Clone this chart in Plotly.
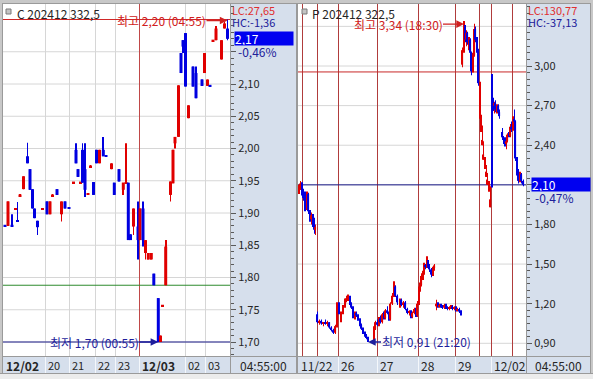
import plotly.graph_objects as go

W, H = 593, 379
FONT = "Noto Sans CJK KR"
UP, DOWN = "#E00000", "#0000E0"

# ---------------- left chart : C 202412 332,5 (x = slot position) ----------------
c_title = "C 202412 332,5"
c_x = [2, 5, 9, 12.5, 14.5, 17, 20.5, 24.5, 27, 29.5,
       31.5, 34.5, 39.5, 44, 47, 49.5, 54, 58.5, 62, 66,
       70.5, 73, 75, 77.5, 79.5, 82, 85, 87.5, 90.5, 93.5,
       96.5, 100.3, 103, 108.5, 111.3, 116, 120.3, 123, 125.3, 127.5,
       130.5, 135, 137, 140, 142.5, 145.3, 148.3, 150.8, 155.3, 157.5,
       159.5, 162.7, 167.5, 170, 172, 175.5, 178, 180, 182.5, 185.5,
       190, 193, 199, 201.5, 204.5, 207, 210, 213, 218.5, 221.5,
       224.5]
c_open = [1.881, 1.880, 1.881, 1.906, 1.888, 1.927, 1.937, 1.988, 1.968, 1.937,
          1.907, 1.888, 1.906, 1.918, 1.898, 1.927, 1.937, 1.898, 1.918, 1.908,
          1.947, 1.998, 1.968, 1.947, 1.998, 1.968, 1.929, 1.972, 1.948, 1.998,
          1.977, 1.998, 1.989, 1.968, 1.947, 1.968, 1.936, 1.946, 1.947, 1.867,
          1.879, 1.879, 1.858, 1.907, 1.838, 1.828, 1.828, 1.806, 1.768, 1.700,
          1.756, 1.788, 1.928, 1.946, 2.008, 2.018, 2.148, 2.168, 2.179, 2.047,
          2.127, 2.117, 2.107, 2.117, 2.097, 2.098, 2.167, 2.168, 2.138, 2.186,
          2.186]
c_high = [1.881, 1.918, 1.898, 1.907, 1.917, 1.928, 1.957, 2.009, 1.968, 1.937,
          1.907, 1.888, 1.907, 1.918, 1.918, 1.928, 1.937, 1.918, 1.918, 1.908,
          1.948, 2.008, 1.968, 1.948, 2.008, 2.008, 1.930, 1.973, 1.948, 1.998,
          1.998, 2.018, 1.989, 1.977, 1.947, 1.968, 1.947, 2.008, 1.947, 1.867,
          1.907, 1.918, 1.907, 1.918, 1.858, 1.838, 1.838, 1.806, 1.768, 1.710,
          1.757, 1.858, 1.949, 1.998, 2.018, 2.098, 2.148, 2.168, 2.179, 2.067,
          2.127, 2.127, 2.107, 2.148, 2.107, 2.098, 2.168, 2.190, 2.168, 2.196,
          2.200]
c_low = [1.880, 1.880, 1.880, 1.906, 1.887, 1.927, 1.937, 1.977, 1.936, 1.907,
         1.892, 1.866, 1.906, 1.898, 1.898, 1.927, 1.928, 1.887, 1.907, 1.907,
         1.947, 1.977, 1.956, 1.947, 1.947, 1.925, 1.929, 1.972, 1.928, 1.977,
         1.977, 1.988, 1.988, 1.968, 1.928, 1.949, 1.928, 1.946, 1.858, 1.858,
         1.866, 1.828, 1.858, 1.848, 1.828, 1.828, 1.828, 1.788, 1.700, 1.700,
         1.756, 1.788, 1.918, 1.946, 2.000, 2.018, 2.117, 2.148, 2.096, 2.047,
         2.096, 2.078, 2.097, 2.117, 2.097, 2.097, 2.167, 2.168, 2.138, 2.186,
         2.168]
c_close = [1.880, 1.918, 1.880, 1.907, 1.887, 1.928, 1.957, 1.977, 1.936, 1.907,
           1.892, 1.878, 1.907, 1.898, 1.918, 1.928, 1.928, 1.918, 1.907, 1.907,
           1.948, 1.977, 1.956, 1.948, 1.947, 1.936, 1.930, 1.973, 1.928, 1.977,
           1.998, 1.988, 1.988, 1.977, 1.928, 1.949, 1.947, 1.947, 1.858, 1.858,
           1.907, 1.858, 1.907, 1.858, 1.858, 1.838, 1.838, 1.788, 1.700, 1.710,
           1.757, 1.848, 1.949, 1.998, 2.018, 2.098, 2.117, 2.158, 2.096, 2.067,
           2.096, 2.078, 2.097, 2.148, 2.107, 2.097, 2.168, 2.186, 2.168, 2.194,
           2.170]
c_tick_pos = [0, 42, 66, 92, 112, 136, 182, 202]
c_tick_text = ["12/02", "20", "21", "22", "23", "12/03", "02", "03"]
c_day_breaks = [136]
c_yticks = [1.70, 1.75, 1.80, 1.85, 1.90, 1.95, 2.00, 2.05, 2.10, 2.15, 2.20]
c_hidden_ticks = [2.15, 2.20]
c_green_level = 1.788
c_high_text = "최고 2,20 (04:55)"
c_low_text = "최저 1,70 (00:55)"
c_lc, c_hc, c_chg = "LC:27,65", "HC:-1,36", "-0,46%"
c_time = "04:55:00"

# ---------------- right chart : P 202412 322,5 ----------------
p_title = "P 202412 322,5"
p_x = [1, 2.5, 4, 5.5, 7, 9, 10.5, 12, 13.5, 15, 16.5, 17.5,
       19.5, 21.5, 23.5, 25.5, 27.5, 29.5, 31.5, 33.5, 35.5, 37.5, 39,
       41, 43, 45, 47, 48.5, 50, 52, 53.5, 55, 57, 58.5, 60, 62, 63.5, 65, 67, 68.5, 70,
       76, 77.5, 79.5, 81, 82.5, 84.5, 86, 87.5, 89.5, 91, 92.5, 94.5, 96, 97.5, 99.5,
       102, 103.5, 105.5, 107.5, 109.5, 111.5, 113, 114.5, 116.5, 118,
       119.5, 121, 122, 123.5, 125, 126, 127.5, 129, 130, 131.5, 133.5, 135, 136.5,
       138.5, 140, 141.5, 143, 144.5, 146.5, 148, 149.5, 151.5, 153, 154.5, 156.5, 158, 159.5, 161.5, 163,
       164.5, 166, 167, 168.5, 169.5, 171, 172.5, 173.5, 175, 176.5, 177.5, 179, 180.5,
       182, 183, 184.5, 185.5, 187, 188.5, 189.5, 191, 192.5,
       194, 195, 196.5, 197.5, 199, 200.5, 201.5, 204.5, 205.5, 207, 208.5, 209.5, 211, 212.5,
       213.5, 215, 216.5, 217.5, 219, 220.5, 222, 223.5, 225.5]
p_open = [2.06, 2.08, 2.11, 2.04, 2.00, 1.92, 2.03, 1.90, 1.84, 1.87, 1.80, 1.76,
          1.12, 1.06, 1.07, 1.05, 1.06, 1.05, 1.06, 1.02, 1.00, 0.98, 1.03,
          1.18, 1.07, 1.13, 1.18, 1.22, 1.24, 1.25, 1.20, 1.17, 1.10, 1.13, 1.11, 1.08, 1.04, 1.01, 0.98, 0.96, 0.94,
          0.93, 1.01, 1.06, 1.04, 1.09, 1.06, 1.12, 1.09, 1.15, 1.13, 1.08, 1.20, 1.26, 1.33, 1.26,
          1.21, 1.23, 1.19, 1.21, 1.16, 1.13, 1.14, 1.10, 1.13, 1.16,
          1.11, 1.20, 1.31, 1.34, 1.41, 1.43, 1.49, 1.48, 1.52, 1.48, 1.46, 1.42, 1.47,
          1.18, 1.20, 1.18, 1.19, 1.18, 1.17, 1.19, 1.17, 1.16, 1.17, 1.18, 1.16, 1.17, 1.15, 1.16, 1.14,
          3.01, 3.12, 3.30, 3.20, 3.25, 3.18, 3.20, 3.10, 2.96, 3.08, 3.28, 3.20, 3.12,
          2.62, 2.50, 2.40, 2.29, 2.22, 2.16, 2.10, 2.05, 1.93,
          2.76, 2.72, 2.70, 2.72, 2.67, 2.70, 2.65, 2.50, 2.46, 2.44, 2.41, 2.43, 2.48, 2.47,
          2.54, 2.52, 2.60, 2.58, 2.30, 2.20, 2.13, 2.18, 2.13]
p_high = [2.10, 2.13, 2.12, 2.07, 2.05, 2.05, 2.04, 1.91, 1.89, 1.88, 1.85, 1.80,
          1.14, 1.08, 1.08, 1.06, 1.08, 1.07, 1.06, 1.03, 1.01, 1.04, 1.21,
          1.21, 1.14, 1.19, 1.24, 1.26, 1.27, 1.26, 1.21, 1.18, 1.14, 1.14, 1.12, 1.09, 1.05, 1.02, 0.99, 0.97, 0.95,
          1.03, 1.07, 1.08, 1.10, 1.11, 1.13, 1.14, 1.16, 1.18, 1.14, 1.21, 1.28, 1.37, 1.34, 1.27,
          1.24, 1.24, 1.22, 1.22, 1.17, 1.15, 1.15, 1.14, 1.17, 1.17,
          1.22, 1.33, 1.36, 1.43, 1.45, 1.51, 1.50, 1.56, 1.53, 1.50, 1.47, 1.48, 1.50,
          1.23, 1.21, 1.20, 1.20, 1.19, 1.20, 1.20, 1.18, 1.18, 1.19, 1.19, 1.18, 1.18, 1.17, 1.17, 1.15,
          3.14, 3.34, 3.31, 3.27, 3.26, 3.22, 3.21, 3.11, 3.10, 3.32, 3.30, 3.22, 3.13,
          2.88, 2.63, 2.55, 2.43, 2.31, 2.25, 2.19, 2.13, 2.09,
          2.94, 2.76, 2.73, 2.74, 2.71, 2.71, 2.67, 2.53, 2.47, 2.46, 2.44, 2.49, 2.50, 2.56,
          2.58, 2.62, 2.67, 2.59, 2.31, 2.22, 2.20, 2.19, 2.14]
p_low = [2.03, 2.06, 2.02, 1.98, 1.90, 1.91, 1.88, 1.82, 1.80, 1.78, 1.73, 1.72,
         1.05, 1.04, 1.04, 1.03, 1.04, 1.03, 1.01, 0.99, 0.97, 0.97, 1.02,
         1.12, 1.06, 1.12, 1.17, 1.21, 1.22, 1.19, 1.16, 1.09, 1.08, 1.10, 1.07, 1.03, 1.00, 0.97, 0.95, 0.93, 0.91,
         0.92, 1.00, 1.03, 1.03, 1.05, 1.05, 1.08, 1.08, 1.12, 1.07, 1.07, 1.19, 1.25, 1.25, 1.19,
         1.17, 1.18, 1.17, 1.15, 1.12, 1.11, 1.09, 1.09, 1.12, 1.10,
         1.10, 1.19, 1.29, 1.33, 1.38, 1.42, 1.46, 1.47, 1.47, 1.44, 1.40, 1.41, 1.45,
         1.15, 1.17, 1.17, 1.17, 1.16, 1.16, 1.16, 1.15, 1.15, 1.16, 1.15, 1.15, 1.14, 1.14, 1.13, 1.11,
         2.99, 3.10, 3.18, 3.15, 3.16, 3.12, 3.09, 2.93, 2.95, 3.07, 3.18, 3.10, 2.85,
         2.60, 2.50, 2.40, 2.29, 2.22, 2.16, 2.10, 2.05, 1.93,
         2.08, 2.66, 2.64, 2.65, 2.64, 2.63, 2.60, 2.44, 2.41, 2.39, 2.37, 2.42, 2.46, 2.46,
         2.50, 2.51, 2.56, 2.28, 2.17, 2.11, 2.12, 2.11, 2.09]
p_close = [2.08, 2.11, 2.04, 2.00, 1.92, 2.03, 1.90, 1.84, 1.87, 1.80, 1.76, 1.78,
           1.06, 1.07, 1.05, 1.06, 1.05, 1.06, 1.02, 1.00, 0.98, 1.03, 1.18,
           1.13, 1.13, 1.18, 1.22, 1.24, 1.25, 1.20, 1.17, 1.10, 1.13, 1.11, 1.08, 1.04, 1.01, 0.98, 0.96, 0.94, 0.92,
           1.01, 1.06, 1.04, 1.09, 1.06, 1.12, 1.09, 1.15, 1.13, 1.08, 1.20, 1.26, 1.33, 1.26, 1.21,
           1.23, 1.19, 1.21, 1.16, 1.13, 1.14, 1.10, 1.13, 1.16, 1.11,
           1.20, 1.31, 1.34, 1.41, 1.43, 1.49, 1.48, 1.52, 1.48, 1.46, 1.42, 1.47, 1.49,
           1.20, 1.18, 1.19, 1.18, 1.17, 1.19, 1.17, 1.16, 1.17, 1.18, 1.16, 1.17, 1.15, 1.16, 1.14, 1.12,
           3.12, 3.30, 3.20, 3.25, 3.18, 3.20, 3.10, 2.96, 3.08, 3.28, 3.20, 3.12, 2.87,
           2.66, 2.54, 2.44, 2.33, 2.26, 2.20, 2.14, 2.09, 1.99,
           2.72, 2.70, 2.72, 2.67, 2.70, 2.65, 2.62, 2.46, 2.44, 2.41, 2.43, 2.48, 2.47, 2.54,
           2.52, 2.60, 2.58, 2.30, 2.20, 2.13, 2.18, 2.13, 2.10]
p_tick_pos = [0, 40, 79, 120, 157, 193]
p_tick_text = ["11/22", "26", "27", "28", "29", "12/02"]
p_session_lines = [4, 19, 40, 79, 120, 157, 181, 193, 214]
p_yticks = [0.90, 1.20, 1.50, 1.80, 2.10, 2.40, 2.70, 3.00, 3.30]
p_hidden_ticks = [2.10, 3.30]
p_red_level = 2.955
p_high_text = "최고 3,34 (18:30)"
p_low_text = "최저 0,91 (21:20)"
p_lc, p_hc, p_chg = "LC:130,77", "HC:-37,13", "-0,47%"
p_time = "04:55:00"

for arr in (c_open, c_high, c_low, c_close):
    assert len(arr) == len(c_x)
for arr in (p_open, p_high, p_low, p_close):
    assert len(arr) == len(p_x)

# ---------------- geometry (pixels) ----------------
TOP, BOT, SBOT = 4, 356, 373
C_L, C_R, C_AR = 3, 230, 296
P_L, P_R, P_AR = 298, 526, 590
C_YR = [2.10 - (BOT - 84) / 645.0, 2.10 + (84 - TOP) / 645.0]
P_YR = [0.90 - (BOT - 343.3) / 132.05, 3.00 + (66 - TOP) / 132.05]
STRIP = "#D6DFEC"
GRID = "#D6D6D6"
FRAME = "#9A9A9A"
TXT = "#262626"
PX_OFF = 0.5   # half-pixel offset so 1px vertical lines stay crisp


def pxx(p):
    return p / W


def pxy(p):
    return 1 - p / H


def fmt(v):
    return f"{v:.2f}".replace(".", ",")


fig = go.Figure()


def add_candles(xs, o, h, l, c, xa, ya, body_w, wick_w, min_h):
    cols = [UP if cc >= oo else DOWN for oo, cc in zip(o, c)]
    fig.add_trace(go.Bar(x=xs, base=l, y=[hh - ll for hh, ll in zip(h, l)], width=wick_w,
                         marker=dict(color=cols, line=dict(width=0)), xaxis=xa, yaxis=ya,
                         hoverinfo="skip", showlegend=False))
    bb, bh = [], []
    for oo, cc in zip(o, c):
        d = abs(cc - oo)
        hh = max(d, min_h)
        bb.append(min(oo, cc) - (hh - d) / 2)
        bh.append(hh)
    fig.add_trace(go.Bar(x=xs, base=bb, y=bh, width=body_w,
                         marker=dict(color=cols, line=dict(width=0)), xaxis=xa, yaxis=ya,
                         hoverinfo="skip", showlegend=False))


add_candles(c_x, c_open, c_high, c_low, c_close, "x", "y", 3, 1, 0.0025)
add_candles(p_x, p_open, p_high, p_low, p_close, "x2", "y2", 1.2, 0.9, 0.01)

shapes = []


def prect(x0, y0, x1, y1, fill, layer="below"):
    shapes.append(dict(type="rect", xref="paper", yref="paper", x0=pxx(x0), x1=pxx(x1),
                       y0=pxy(y1), y1=pxy(y0), fillcolor=fill, line=dict(width=0), layer=layer))


def pline(x0, y0, x1, y1, color, layer="above", width=1):
    shapes.append(dict(type="line", xref="paper", yref="paper", x0=pxx(x0), x1=pxx(x1),
                       y0=pxy(y0), y1=pxy(y1), line=dict(color=color, width=width), layer=layer))


def hline(xa, ya, xr, v, color):
    shapes.append(dict(type="line", xref=xa, yref=ya, x0=xr[0], x1=xr[1], y0=v, y1=v,
                       line=dict(color=color, width=1), layer="below"))


def vline(xa, ya, yr, v, color):
    shapes.append(dict(type="line", xref=xa, yref=ya, x0=v + PX_OFF, x1=v + PX_OFF, y0=yr[0], y1=yr[1],
                       line=dict(color=color, width=1), layer="below"))


# axis strips and outer frame areas
prect(0, 0, W, 3, "#C8C8C8")
prect(0, 0, 2, SBOT, "#C8C8C8")
prect(C_R, 3, C_AR, BOT, STRIP)
prect(2, BOT, C_AR, SBOT, STRIP)
prect(C_AR, 0, P_L - 1, SBOT, "#C8C8C8")
prect(P_R, 3, P_AR, BOT, STRIP)
prect(P_L - 1, BOT, P_AR, SBOT, STRIP)
prect(P_AR, 0, W, H, "#C8C8C8")
prect(0, SBOT, W, H, "#ECECEC")

C_XR = [0, C_R - C_L]
P_XR = [0, P_R - P_L]

# left grid + lines
for v in c_yticks:
    hline("x", "y", C_XR, v, GRID)
for v in c_tick_pos[1:]:
    if v not in c_day_breaks:
        vline("x", "y", C_YR, v, GRID)
for v in c_day_breaks:
    vline("x", "y", C_YR, v, "#C04848")
hline("x", "y", C_XR, c_green_level, "#2E8B2E")
hline("x", "y", C_XR, max(c_high), "#D02828")
hline("x", "y", C_XR, min(c_low), "#1E1E8C")

# right grid + lines
for v in p_yticks:
    hline("x2", "y2", P_XR, v, GRID)
for v in p_session_lines:
    vline("x2", "y2", P_YR, v, "#B03C3C")
hline("x2", "y2", P_XR, p_red_level, "#C82828")
hline("x2", "y2", P_XR, p_close[-1], "#1E1E8C")

# frames
pline(2.5, 3, 2.5, SBOT, FRAME)
pline(2, 3.5, C_AR, 3.5, FRAME)
pline(C_R + 0.5, 3, C_R + 0.5, SBOT, FRAME)
pline(2, BOT + 0.5, C_AR, BOT + 0.5, FRAME)
pline(C_AR + 0.5, 3, C_AR + 0.5, SBOT, FRAME)
pline(P_L - 0.5, 3, P_L - 0.5, SBOT, FRAME)
pline(P_L - 1, 3.5, P_AR, 3.5, FRAME)
pline(P_R + 0.5, 3, P_R + 0.5, SBOT, FRAME)
pline(P_L - 1, BOT + 0.5, P_AR, BOT + 0.5, FRAME)
pline(P_AR + 0.5, 3, P_AR + 0.5, SBOT, FRAME)
pline(0, SBOT + 0.5, W, SBOT + 0.5, FRAME)
# bottom strip separators
for v in c_tick_pos[1:]:
    pline(C_L + v + 0.5, BOT + 1, C_L + v + 0.5, SBOT, "#F4F7FB")
for v in p_tick_pos[1:]:
    pline(P_L + v + 0.5, BOT + 1, P_L + v + 0.5, SBOT, "#F4F7FB")
# title icons
for ix in (6, 302):
    shapes.append(dict(type="rect", xref="paper", yref="paper", x0=pxx(ix), x1=pxx(ix + 5),
                       y0=pxy(14), y1=pxy(9), fillcolor="#C4C4C4",
                       line=dict(color="#7A7A7A", width=1), layer="above"))

ann = []


def ptext(x, y, text, color=TXT, size=12, bold=False, anchor="left"):
    ann.append(dict(xref="paper", yref="paper", x=pxx(x), y=pxy(y), text=f"<b>{text}</b>" if bold else text,
                    showarrow=False, xanchor=anchor, yanchor="middle", borderpad=0,
                    font=dict(family=FONT, size=size, color=color)))


ptext(16, 13, c_title)
ptext(311, 13, p_title)
ptext(231, 10, c_lc, "#E03030", size=11)
ptext(231, 22, c_hc, "#20209A", size=11)
ptext(527, 10, p_lc, "#E03030", size=11)
ptext(527, 22, p_hc, "#20209A", size=11)
ptext(239, 365, c_time, size=12)
ptext(534, 365, p_time, size=12)

for pos, t in zip(c_tick_pos, c_tick_text):
    ann.append(dict(xref="x", yref="paper", x=pos + 2, y=pxy(365), text=f"<b>{t}</b>" if "/" in t else t,
                    showarrow=False, xanchor="left", yanchor="middle", borderpad=0,
                    font=dict(family=FONT, size=12 if "/" in t else 11, color=TXT)))
for pos, t in zip(p_tick_pos, p_tick_text):
    ann.append(dict(xref="x2", yref="paper", x=pos + 2, y=pxy(365), text=t,
                    showarrow=False, xanchor="left", yanchor="middle", borderpad=0,
                    font=dict(family=FONT, size=12, color=TXT)))

# current price boxes
for ya, xp, last, chg in (("y", 234, c_close[-1], c_chg), ("y2", 531, p_close[-1], p_chg)):
    ann.append(dict(xref="paper", yref=ya, x=pxx(xp), y=last, text=fmt(last), showarrow=False,
                    xanchor="left", yanchor="middle", width=58, height=13, align="left",
                    bgcolor="#0000F0", borderpad=0, font=dict(family=FONT, size=12, color="white")))
    ann.append(dict(xref="paper", yref=ya, x=pxx(xp + 3), y=last, yshift=-13, text=chg, showarrow=False,
                    xanchor="left", yanchor="middle", borderpad=0,
                    font=dict(family=FONT, size=12, color="#20209A")))

# high / low markers
ci_hi = c_high.index(max(c_high))
ci_lo = c_low.index(min(c_low))
pi_hi = p_high.index(max(p_high))
pi_lo = p_low.index(min(p_low))
for xa, ya, x, y, text, color, ax, ys in (
        ("x", "y", c_x[ci_hi], c_high[ci_hi], c_high_text, "#D02020", -66, -1),
        ("x", "y", c_x[ci_lo], c_low[ci_lo], c_low_text, "#1E1E9C", -64, 0),
        ("x2", "y2", p_x[pi_hi], p_high[pi_hi], p_high_text, "#D02020", -66, -3),
        ("x2", "y2", p_x[pi_lo], p_low[pi_lo], p_low_text, "#1E1E9C", 58, 0)):
    ann.append(dict(xref=xa, yref=ya, x=x, y=y, text=text, showarrow=True, ax=ax, ay=0, yshift=ys,
                    arrowhead=2, arrowsize=1.1, arrowwidth=1.4, arrowcolor=color, standoff=0,
                    borderpad=0, font=dict(family=FONT, size=12, color=color)))

axis_common = dict(ticks="outside", ticklen=5, tickwidth=1, tickcolor="#5A5A5A",
                   tickfont=dict(family=FONT, size=11, color=TXT), showgrid=False,
                   zeroline=False, showline=False, fixedrange=True, side="right")

fig.update_layout(
    width=W, height=H, margin=dict(l=0, r=0, t=0, b=0), autosize=False,
    paper_bgcolor="white", plot_bgcolor="white", barmode="overlay", separators=", ",
    showlegend=False, hovermode=False, font=dict(family=FONT),
    xaxis=dict(domain=[pxx(C_L), pxx(C_R)], range=C_XR, anchor="y", showgrid=False,
               showticklabels=False, ticks="", zeroline=False, fixedrange=True),
    xaxis2=dict(domain=[pxx(P_L), pxx(P_R)], range=P_XR, anchor="y2", showgrid=False,
                showticklabels=False, ticks="", zeroline=False, fixedrange=True),
    yaxis=dict(domain=[pxy(BOT), pxy(TOP)], range=C_YR, anchor="x", tickmode="array",
               tickvals=c_yticks, ticktext=["" if v in c_hidden_ticks else fmt(v) for v in c_yticks],
               minor=dict(tickmode="linear", tick0=1.70, dtick=0.01, ticks="outside", ticklen=3,
                          tickcolor="#5A5A5A", showgrid=False), **axis_common),
    yaxis2=dict(domain=[pxy(BOT), pxy(TOP)], range=P_YR, anchor="x2", tickmode="array",
                tickvals=p_yticks, ticktext=["" if v in p_hidden_ticks else fmt(v) for v in p_yticks],
                minor=dict(tickmode="linear", tick0=0.90, dtick=0.05, ticks="outside", ticklen=3,
                           tickcolor="#5A5A5A", showgrid=False), **axis_common),
    shapes=shapes, annotations=ann,
)

fig.write_html("out.html")
